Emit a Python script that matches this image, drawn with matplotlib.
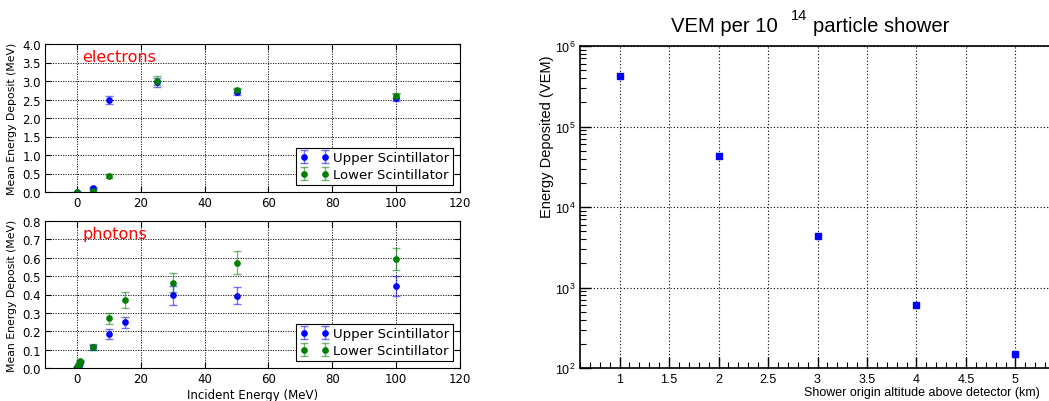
import matplotlib
matplotlib.use("Agg")
import matplotlib.pyplot as plt
import numpy as np
from matplotlib.ticker import MultipleLocator, FormatStrFormatter, LogLocator, NullFormatter

plt.rcParams['mathtext.fontset'] = 'custom'
plt.rcParams['mathtext.rm'] = 'Liberation Sans'
plt.rcParams['mathtext.it'] = 'Liberation Sans:italic'
plt.rcParams['mathtext.bf'] = 'Liberation Sans:bold'

# ---- electrons data ----
e_energy_upper = [0, 5, 10, 25, 50, 100]
e_dep_upper = [0.0, 0.1, 2.49, 2.96, 2.71, 2.55]
e_err_upper = [0.01, 0.03, 0.1, 0.12, 0.08, 0.09]
e_energy_lower = [0, 5, 10, 25, 50, 100]
e_dep_lower = [0.0, 0.03, 0.43, 3.01, 2.75, 2.6]
e_err_lower = [0.01, 0.02, 0.06, 0.13, 0.07, 0.07]

# ---- photons data ----
p_energy_upper = [0.1, 0.2, 0.5, 1, 5, 10, 15, 30, 50, 100]
p_dep_upper = [0.003, 0.008, 0.018, 0.035, 0.112, 0.185, 0.248, 0.396, 0.393, 0.447]
p_err_upper = [0.002, 0.003, 0.004, 0.005, 0.012, 0.027, 0.03, 0.052, 0.047, 0.055]
p_energy_lower = [0.1, 0.2, 0.5, 1, 5, 10, 15, 30, 50, 100]
p_dep_lower = [0.005, 0.01, 0.022, 0.04, 0.114, 0.27, 0.371, 0.465, 0.574, 0.595]
p_err_lower = [0.002, 0.003, 0.004, 0.005, 0.015, 0.03, 0.045, 0.05, 0.063, 0.06]

# ---- VEM shower data ----
altitude_km = [1, 2, 3, 4, 5]
vem_deposit = [4.2e5, 4.3e4, 4.4e3, 6.1e2, 1.48e2]

W, H = 1049, 402
fig = plt.figure(figsize=(W / 100, H / 100), dpi=100)

def px(l, t, r, b):
    return [l / W, 1 - b / H, (r - l) / W, (b - t) / H]

def fpt(x, y):
    return x / W, 1 - y / H

ax1 = fig.add_axes(px(45, 45, 460, 193))
ax2 = fig.add_axes(px(45, 222, 460, 369))
ax3 = fig.add_axes(px(580, 47, 580 + 475, 369))

def style_left(ax):
    ax.grid(True, color='k', linestyle=(0, (1.5, 1.5)), linewidth=0.6)
    ax.tick_params(direction='in', top=True, right=True, length=4, labelsize=8.5, pad=3)
    ax.set_xlim(-10, 120)
    ax.xaxis.set_major_locator(MultipleLocator(20))
    for s in ax.spines.values():
        s.set_linewidth(0.8)

def draw(ax, xu, yu, eu, xl, yl, el):
    for x, y, e, c, lab in [(xu, yu, eu, 'b', 'Upper Scintillator'),
                            (xl, yl, el, 'g', 'Lower Scintillator')]:
        cont = ax.errorbar(x, y, yerr=e, fmt='o', color=c, markersize=3.8,
                           capsize=2.6, elinewidth=1, capthick=1, markeredgecolor=c,
                           label=lab)
        for ln in cont[1]:
            ln.set_alpha(0.55)
        for ln in cont[2]:
            ln.set_alpha(0.55)
    leg = ax.legend(loc='lower right', numpoints=2, fontsize=9.5, fancybox=False,
                    framealpha=1, edgecolor='k', borderpad=0.3,
                    handletextpad=0.3, labelspacing=0.3, handlelength=2.2,
                    borderaxespad=0.5)
    leg.get_frame().set_linewidth(0.8)

draw(ax1, e_energy_upper, e_dep_upper, e_err_upper,
     e_energy_lower, e_dep_lower, e_err_lower)
style_left(ax1)
ax1.set_ylim(0, 4.0)
ax1.yaxis.set_major_locator(MultipleLocator(0.5))
ax1.yaxis.set_major_formatter(FormatStrFormatter('%.1f'))
ax1.set_ylabel('Mean Energy Deposit (MeV)', fontsize=7.8, labelpad=4)
ax1.text(0.09, 0.965, 'electrons', color='red', fontsize=11.5, transform=ax1.transAxes,
         va='top', ha='left')

draw(ax2, p_energy_upper, p_dep_upper, p_err_upper,
     p_energy_lower, p_dep_lower, p_err_lower)
style_left(ax2)
ax2.set_ylim(0, 0.8)
ax2.yaxis.set_major_locator(MultipleLocator(0.1))
ax2.yaxis.set_major_formatter(FormatStrFormatter('%.1f'))
ax2.set_ylabel('Mean Energy Deposit (MeV)', fontsize=7.8, labelpad=4)
ax2.set_xlabel('Incident Energy (MeV)', fontsize=8.5, labelpad=2)
ax2.text(0.09, 0.965, 'photons', color='red', fontsize=11.5, transform=ax2.transAxes,
         va='top', ha='left')

# ---- right panel ----
rf = 'Liberation Sans'
ax3.plot(altitude_km, vem_deposit, 's', color='#0000ff', markersize=4.3,
         markeredgecolor='#0000ff')
ax3.set_yscale('log')
ax3.set_xlim(0.6, 5.4)
ax3.set_ylim(1e2, 1e6)
ax3.xaxis.set_major_locator(MultipleLocator(0.5))
ax3.xaxis.set_minor_locator(MultipleLocator(0.1))
ax3.xaxis.set_major_formatter(FormatStrFormatter('%g'))
ax3.yaxis.set_major_locator(LogLocator(base=10, numticks=10))
ax3.yaxis.set_minor_locator(LogLocator(base=10, subs=np.arange(2, 10), numticks=10))
ax3.yaxis.set_minor_formatter(NullFormatter())
ax3.grid(True, which='major', color='k', linestyle=(0, (1, 2)), linewidth=0.8)
ax3.tick_params(which='major', direction='in', length=8, width=1, labelsize=9,
                top=False, right=False)
ax3.tick_params(which='minor', direction='in', length=4, width=0.8,
                top=False, right=False)
for lab in ax3.get_xticklabels() + ax3.get_yticklabels():
    lab.set_fontfamily(rf)
for s in ax3.spines.values():
    s.set_linewidth(1.2)

# title in ROOT style: "VEM per 10 ^14 particle shower"
fig.text(*fpt(778, 32), 'VEM per 10', fontsize=14.6, fontfamily=rf,
         ha='right', va='baseline')
fig.text(*fpt(791, 9), '14', fontsize=10.5, fontfamily=rf,
         ha='left', va='top')
fig.text(*fpt(813, 32), 'particle shower', fontsize=14.6, fontfamily=rf,
         ha='left', va='baseline')

ax3.set_xlabel('Shower origin altitude above detector (km)', fontsize=9,
               fontfamily=rf, ha='right')
ax3.xaxis.set_label_coords((1040 - 580) / 475, -0.055)
ax3.set_ylabel('Energy Deposited (VEM)', fontsize=10.5, fontfamily=rf)
ax3.yaxis.set_label_coords(-0.054, 0.72)

fig.savefig('out.png', dpi=100, facecolor='white')
